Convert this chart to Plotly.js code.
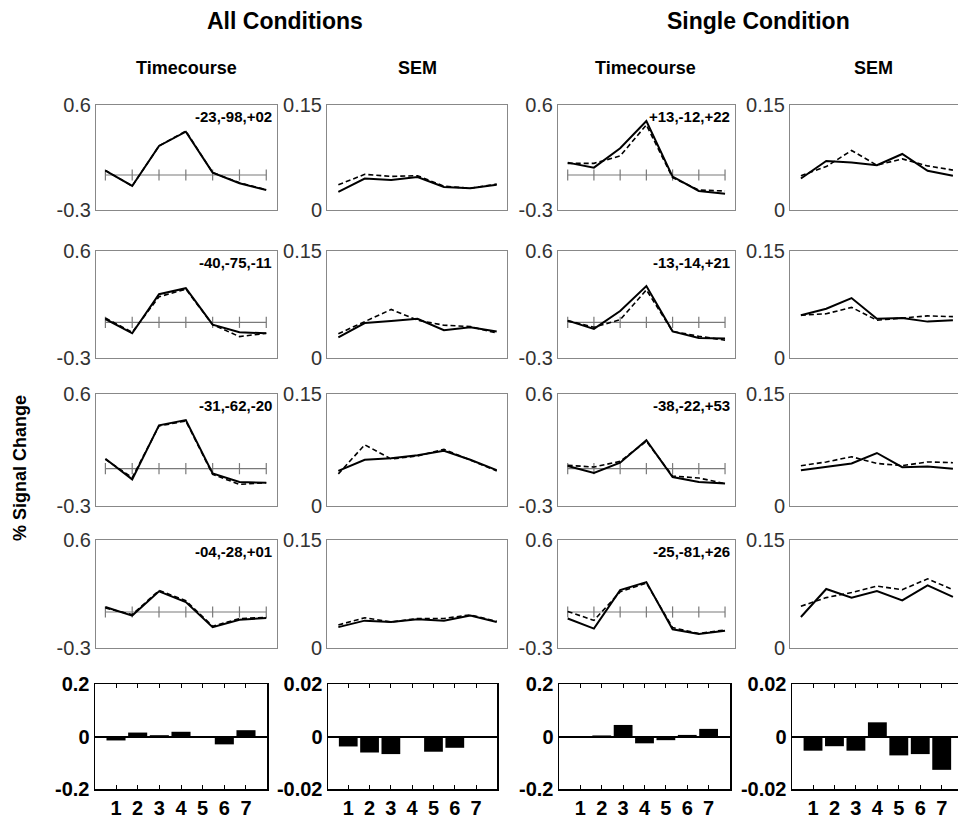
<!DOCTYPE html>
<html><head><meta charset="utf-8">
<script src="https://cdn.plot.ly/plotly-3.0.1.min.js"></script>
<style>html,body{margin:0;padding:0;background:#fff}</style>
</head><body><div id="chart" style="width:958px;height:817px"></div>
<script>
// ---------- DATA ----------
const timepoints = [1, 2, 3, 4, 5, 6, 7];
const tickLabels = ["1", "2", "3", "4", "5", "6", "7"];
const baselineY = [0, 0, 0, 0, 0, 0, 0];
const groupTitles = ["All Conditions", "Single Condition"];
const columnTitles = ["Timecourse", "SEM", "Timecourse", "SEM"];
const yAxisTitle = "% Signal Change";
const allCoords = ["-23,-98,+02", "-40,-75,-11", "-31,-62,-20", "-04,-28,+01"];
const singleCoords = ["+13,-12,+22", "-13,-14,+21", "-38,-22,+53", "-25,-81,+26"];

const allTcSolid = [
  [0.037, -0.094, 0.249, 0.371, 0.020, -0.071, -0.129],
  [0.028, -0.092, 0.237, 0.287, -0.020, -0.084, -0.092],
  [0.080, -0.086, 0.348, 0.391, -0.038, -0.107, -0.113],
  [0.042, -0.030, 0.172, 0.083, -0.127, -0.064, -0.050]
];
const allTcDashed = [
  [0.040, -0.094, 0.249, 0.377, 0.020, -0.066, -0.126],
  [0.036, -0.084, 0.215, 0.279, -0.020, -0.120, -0.092],
  [0.075, -0.072, 0.343, 0.383, -0.046, -0.126, -0.113],
  [0.033, -0.022, 0.180, 0.094, -0.119, -0.055, -0.044]
];
const allSemSolid = [
  [0.026, 0.045, 0.043, 0.047, 0.033, 0.031, 0.036],
  [0.029, 0.049, 0.052, 0.055, 0.039, 0.043, 0.037],
  [0.047, 0.062, 0.064, 0.068, 0.074, 0.062, 0.048],
  [0.029, 0.038, 0.036, 0.040, 0.038, 0.045, 0.036]
];
const allSemDashed = [
  [0.036, 0.051, 0.048, 0.049, 0.034, 0.031, 0.037],
  [0.034, 0.051, 0.068, 0.053, 0.046, 0.044, 0.035],
  [0.043, 0.082, 0.063, 0.067, 0.076, 0.062, 0.047],
  [0.032, 0.042, 0.036, 0.041, 0.041, 0.046, 0.037]
];
const singleTcSolid = [
  [0.106, 0.063, 0.229, 0.463, -0.014, -0.137, -0.160],
  [0.014, -0.055, 0.095, 0.305, -0.076, -0.131, -0.136],
  [0.021, -0.035, 0.048, 0.228, -0.067, -0.107, -0.120],
  [-0.054, -0.138, 0.182, 0.249, -0.144, -0.184, -0.157]
];
const singleTcDashed = [
  [0.100, 0.100, 0.163, 0.429, -0.023, -0.129, -0.137],
  [0.014, -0.041, 0.022, 0.273, -0.076, -0.117, -0.150],
  [0.027, 0.013, 0.059, 0.220, -0.059, -0.075, -0.120],
  [0.005, -0.070, 0.168, 0.241, -0.130, -0.179, -0.149]
];
const singleSemSolid = [
  [0.045, 0.070, 0.068, 0.064, 0.080, 0.056, 0.049],
  [0.060, 0.069, 0.084, 0.055, 0.056, 0.051, 0.053],
  [0.048, 0.053, 0.057, 0.071, 0.052, 0.053, 0.050],
  [0.043, 0.082, 0.070, 0.079, 0.066, 0.087, 0.071]
];
const singleSemDashed = [
  [0.049, 0.062, 0.085, 0.064, 0.073, 0.063, 0.057],
  [0.060, 0.062, 0.071, 0.053, 0.056, 0.059, 0.058],
  [0.054, 0.059, 0.066, 0.057, 0.054, 0.059, 0.058],
  [0.058, 0.070, 0.077, 0.086, 0.081, 0.096, 0.081]
];
const allTcDiff = [-0.015, 0.015, 0.005, 0.018, -0.005, -0.030, 0.024];
const allSemDiff = [-0.0038, -0.0061, -0.0067, -0.0002, -0.0058, -0.0043, 0];
const singleTcDiff = [0, 0.004, 0.044, -0.026, -0.014, 0.006, 0.029];
const singleSemDiff = [-0.0054, -0.0037, -0.0054, 0.0054, -0.0072, -0.0067, -0.0127];

// ---------- LAYOUT GEOMETRY ----------
const W = 958, H = 817;
const px = v => v / W, py = v => 1 - v / H;
const FONT = "Liberation Sans, Arial, Helvetica, sans-serif";
const colBox = [[96, 277], [327, 507], [558, 735], [790, 958]];
const barColBox = [[95, 267], [328, 497], [559, 730], [792, 958]];
const rowBox = [[105, 210], [251, 358], [394, 506], [540, 648]];
const barRowBox = [684, 789];
const lineXRange = [[0.65, 7.4], [0.57, 7.39], [0.63, 7.38], [0.57, 7.2]];
const barXRange = [[0.03, 7.97], [0.05, 7.98], [0, 8], [0.02, 7.76]];

const solidSets = [allTcSolid, allSemSolid, singleTcSolid, singleSemSolid];
const dashedSets = [allTcDashed, allSemDashed, singleTcDashed, singleSemDashed];
const diffSets = [allTcDiff, allSemDiff, singleTcDiff, singleSemDiff];
const coordSets = [allCoords, null, singleCoords, null];

const traces = [];
const layout = {
  width: W, height: H, margin: {l: 0, r: 0, t: 0, b: 0},
  paper_bgcolor: "#fff", plot_bgcolor: "#fff", showlegend: false,
  font: {family: FONT, color: "#000"},
  annotations: []
};

function axName(n) { return n === 1 ? "" : String(n); }

let n = 0;
for (let r = 0; r < 4; r++) {
  for (let c = 0; c < 4; c++) {
    n++;
    const isSem = c % 2 === 1;
    const xa = "x" + axName(n), ya = "y" + axName(n);
    layout["xaxis" + axName(n)] = {
      domain: [px(colBox[c][0]), px(colBox[c][1])], range: lineXRange[c], anchor: ya,
      showgrid: false, zeroline: false, showticklabels: false, ticks: "",
      showline: true, linecolor: "#888", linewidth: 1, mirror: true
    };
    layout["yaxis" + axName(n)] = {
      domain: [py(rowBox[r][1]), py(rowBox[r][0])], anchor: xa,
      range: isSem ? [0, 0.15] : [-0.3, 0.6],
      tickvals: isSem ? [0, 0.15] : [-0.3, 0.6],
      ticktext: isSem ? ["0", "0.15"] : ["-0.3", "0.6"],
      ticks: "", showgrid: false, zeroline: false,
      showline: true, linecolor: "#888", linewidth: 1, mirror: c !== 3,
      tickfont: {family: FONT, size: 20, color: "#333"}
    };
    if (!isSem) {
      traces.push({x: timepoints, y: baselineY, xaxis: xa, yaxis: ya, mode: "lines+markers",
        line: {color: "#7a7a7a", width: 1.2},
        marker: {symbol: "line-ns-open", size: 8, line: {color: "#7a7a7a", width: 1.2}},
        hoverinfo: "skip"});
      layout.annotations.push({xref: "paper", yref: "paper", x: px(colBox[c][1] - 3), y: py(rowBox[r][0] + 11),
        xanchor: "right", yanchor: "middle", showarrow: false, text: coordSets[c][r],
        font: {family: FONT, size: 15, weight: "bold", color: "#000"}});
    }
    traces.push({x: timepoints, y: dashedSets[c][r], xaxis: xa, yaxis: ya, mode: "lines",
      line: {color: "#000", width: 1.6, dash: "5px,3px"}});
    traces.push({x: timepoints, y: solidSets[c][r], xaxis: xa, yaxis: ya, mode: "lines",
      line: {color: "#000", width: 2}});
  }
}
for (let c = 0; c < 4; c++) {
  n++;
  const isSem = c % 2 === 1;
  const lim = isSem ? 0.02 : 0.2;
  const xa = "x" + axName(n), ya = "y" + axName(n);
  layout["xaxis" + axName(n)] = {
    domain: [px(barColBox[c][0]), px(barColBox[c][1])], range: barXRange[c], anchor: ya,
    showgrid: false, zeroline: false, tickvals: timepoints, ticktext: tickLabels,
    ticks: "inside", ticklen: 4, tickwidth: 1, tickcolor: "#000",
    showline: true, linecolor: "#000", linewidth: 1.5, mirror: "ticks",
    tickfont: {family: FONT, size: 20, weight: "bold", color: "#000"}
  };
  layout["yaxis" + axName(n)] = {
    domain: [py(barRowBox[1]), py(barRowBox[0])], anchor: xa,
    range: [-lim, lim], tickvals: [-lim, 0, lim],
    ticktext: isSem ? ["-0.02", "0", "0.02"] : ["-0.2", "0", "0.2"],
    ticks: "", showgrid: false, zeroline: true, zerolinecolor: "#000", zerolinewidth: 2,
    showline: true, linecolor: "#000", linewidth: 1.5, mirror: c !== 3,
    tickfont: {family: FONT, size: 20, weight: "bold", color: "#000"}
  };
  traces.push({type: "bar", x: timepoints, y: diffSets[c], xaxis: xa, yaxis: ya,
    width: 0.88, marker: {color: "#000", line: {width: 0}}});
}

// titles
const groupCenters = [285, 758];
groupTitles.forEach((t, i) => layout.annotations.push({xref: "paper", yref: "paper",
  x: px(groupCenters[i]), y: py(21), xanchor: "center", yanchor: "middle", showarrow: false,
  text: t, font: {family: FONT, size: 23, weight: "bold", color: "#000"}}));
const colCenters = [186, 417, 645, 873];
columnTitles.forEach((t, i) => layout.annotations.push({xref: "paper", yref: "paper",
  x: px(colCenters[i]), y: py(68), xanchor: "center", yanchor: "middle", showarrow: false,
  text: t, font: {family: FONT, size: 18, weight: "bold", color: "#000"}}));
layout.annotations.push({xref: "paper", yref: "paper", x: px(20), y: py(468),
  xanchor: "center", yanchor: "middle", showarrow: false, textangle: -90,
  text: yAxisTitle, font: {family: FONT, size: 18, weight: "bold", color: "#000"}});

Plotly.newPlot("chart", traces, layout, {staticPlot: true, displayModeBar: false});
</script>
</body></html>
